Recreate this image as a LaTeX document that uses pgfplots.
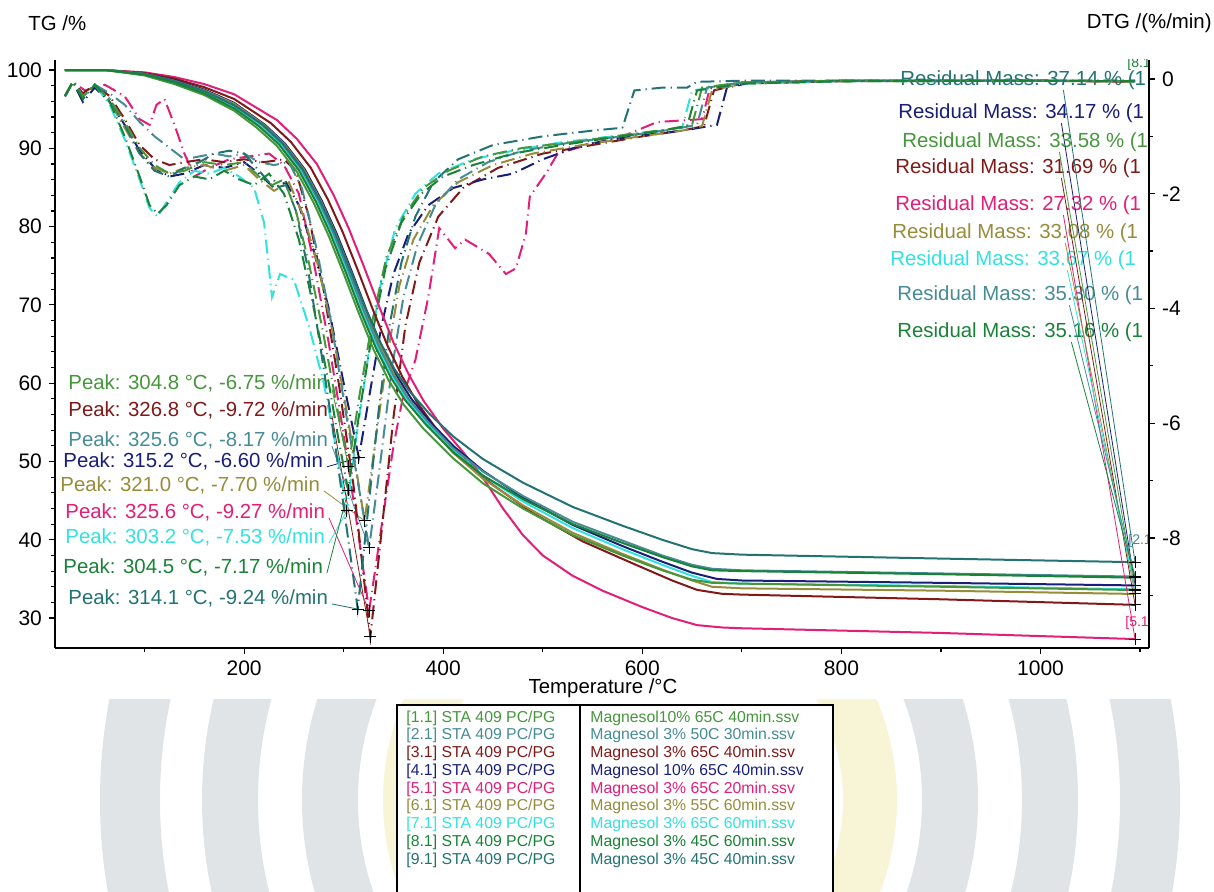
\documentclass[border=0pt]{standalone}
\usepackage{pgfplots}
\pgfplotsset{compat=1.18}
\usepackage{fontspec}
\setmainfont{Liberation Sans}
\definecolor{cA}{RGB}{70,150,60}
\definecolor{cB}{RGB}{70,140,150}
\definecolor{cC}{RGB}{130,25,25}
\definecolor{cD}{RGB}{25,30,120}
\definecolor{cE}{RGB}{225,30,120}
\definecolor{cF}{RGB}{150,140,60}
\definecolor{cG}{RGB}{50,225,225}
\definecolor{cH}{RGB}{25,130,55}
\definecolor{cI}{RGB}{35,115,115}
\definecolor{wmG}{RGB}{224,228,230}
\definecolor{wmY}{RGB}{248,244,214}
\newcommand{\af}{\fontsize{10.2}{12}\selectfont}
\newcommand{\lf}{\fontsize{7.9}{9}\selectfont}
\pgfplotsset{
  dtg/.style={line width=1pt, dash pattern=on 7pt off 2.5pt on 0.6pt off 2.5pt},
  tg/.style={line width=1pt},
}
\tikzset{lead/.style={line width=0.4pt}}
\begin{document}
\begin{tikzpicture}
\path[use as bounding box] (0,0) rectangle (607pt,446pt);
\begin{scope}[x=0.5pt,y=-0.5pt,yshift=446pt]
  \begin{scope}
    \clip (0,700) rectangle (1214,892);
    \draw[line width=27pt,wmY] (640,800) circle[radius=115pt];
    \draw[line width=28pt,wmG] (640,800) circle[radius=155pt];
    \draw[line width=28pt,wmG] (640,800) circle[radius=205pt];
    \draw[line width=30pt,wmG] (640,800) circle[radius=255pt];
  \end{scope}
  % residual mass labels (clipped by the axis box)
  \begin{scope}
    \clip (55,60) rectangle (1149,648);
    \begin{scope}[every node/.style={anchor=west,inner sep=0pt,font=\af}]
      \node[text=cI] at (900,80) {Residual Mass: 37.14 \% (1};
      \node[text=cD] at (898,113) {Residual Mass: 34.17 \% (1};
      \node[text=cA] at (902,142) {Residual Mass: 33.58 \% (1};
      \node[text=cC] at (895,168) {Residual Mass: 31.69 \% (1};
      \node[text=cE] at (895,205) {Residual Mass: 27.32 \% (1};
      \node[text=cF] at (892,233) {Residual Mass: 33.08 \% (1};
      \node[text=cG] at (890,260) {Residual Mass: 33.67 \% (1};
      \node[text=cB] at (897,295) {Residual Mass: 35.30 \% (1};
      \node[text=cH] at (897,332) {Residual Mass: 35.16 \% (1};
    \end{scope}
    \begin{scope}[every node/.style={anchor=west,inner sep=0pt,font=\fontsize{7}{8}\selectfont}]
      \node[text=cE] at (1125,623) {[5.1};
      \node[text=cH] at (1127,64) {[8.1};
      \node[text=cB] at (1128,541) {[2.1};
    \end{scope}
  \end{scope}
  % peak labels
  \begin{scope}[every node/.style={anchor=west,inner sep=0pt,font=\af}]
    \node[text=cA] at (68,383) {Peak: 304.8 °C, -6.75 \%/min};
    \node[text=cC] at (68,410) {Peak: 326.8 °C, -9.72 \%/min};
    \node[text=cB] at (68,440) {Peak: 325.6 °C, -8.17 \%/min};
    \node[text=cD] at (63,461) {Peak: 315.2 °C, -6.60 \%/min};
    \node[text=cF] at (60,485) {Peak: 321.0 °C, -7.70 \%/min};
    \node[text=cE] at (65,512) {Peak: 325.6 °C, -9.27 \%/min};
    \node[text=cG] at (65,537) {Peak: 303.2 °C, -7.53 \%/min};
    \node[text=cH] at (63,567) {Peak: 304.5 °C, -7.17 \%/min};
    \node[text=cI] at (68,598) {Peak: 314.1 °C, -9.24 \%/min};
  \end{scope}
  % titles and x label
  \node[anchor=west,inner sep=0pt,font=\af] at (28,23) {TG /\%};
  \node[anchor=east,inner sep=0pt,font=\af] at (1212,23) {DTG /(\%/min)};
  \node[inner sep=0pt,font=\af] at (603,688) {Temperature /°C};
  % legend table
  \draw[line width=0.8pt,fill=white] (397,705) rectangle (833,905);
  \draw[line width=0.8pt] (580,705) -- (580,905);
  \begin{scope}[every node/.style={anchor=west,inner sep=0pt,font=\lf}]
    \node[text=cA] at (406,718) {[1.1] STA 409 PC/PG};
    \node[text=cA] at (590,718) {Magnesol10\% 65C 40min.ssv};
    \node[text=cB] at (406,735.75) {[2.1] STA 409 PC/PG};
    \node[text=cB] at (590,735.75) {Magnesol 3\% 50C 30min.ssv};
    \node[text=cC] at (406,753.5) {[3.1] STA 409 PC/PG};
    \node[text=cC] at (590,753.5) {Magnesol 3\% 65C 40min.ssv};
    \node[text=cD] at (406,771.25) {[4.1] STA 409 PC/PG};
    \node[text=cD] at (590,771.25) {Magnesol 10\% 65C 40min.ssv};
    \node[text=cE] at (406,789) {[5.1] STA 409 PC/PG};
    \node[text=cE] at (590,789) {Magnesol 3\% 65C 20min.ssv};
    \node[text=cF] at (406,806.75) {[6.1] STA 409 PC/PG};
    \node[text=cF] at (590,806.75) {Magnesol 3\% 55C 60min.ssv};
    \node[text=cG] at (406,824.5) {[7.1] STA 409 PC/PG};
    \node[text=cG] at (590,824.5) {Magnesol 3\% 65C 60min.ssv};
    \node[text=cH] at (406,842.25) {[8.1] STA 409 PC/PG};
    \node[text=cH] at (590,842.25) {Magnesol 3\% 45C 60min.ssv};
    \node[text=cI] at (406,860) {[9.1] STA 409 PC/PG};
    \node[text=cI] at (590,860) {Magnesol 3\% 45C 40min.ssv};
  \end{scope}
\end{scope}

\pgfplotsset{common/.style={
  at={(27.5pt,122pt)}, anchor=south west, scale only axis,
  width=547pt, height=294pt, xmin=10, xmax=1109,
  tick align=outside, major tick length=3pt, minor tick length=1.8pt,
  every tick/.style={black,line width=0.6pt},
  axis line style={line width=0.8pt},
  tick label style={font=\fontsize{10.5}{12}\selectfont},
  /pgf/number format/assume math mode=true,
  /pgf/number format/set thousands separator={},
  scaled ticks=false,
}}

% DTG axis
\begin{axis}[common,
  ymin=-9.918, ymax=0.331,
  axis x line=none, axis y line*=right,
  ytick={-8,-6,-4,-2,0}, minor ytick={-9,-7,-5,-3,-1},
]
% leader lines of the peak labels
\draw[lead,cA] (axis cs:288.2,-5.40) -- (axis cs:304.8,-6.75);
\draw[lead,cC] (axis cs:288.2,-5.87) -- (axis cs:326.8,-9.72);
\draw[lead,cB] (axis cs:288.2,-6.40) -- (axis cs:325.6,-8.17);
\draw[lead,cD] (axis cs:283.2,-6.76) -- (axis cs:315.2,-6.60);
\draw[lead,cF] (axis cs:280.2,-7.18) -- (axis cs:321.0,-7.70);
\draw[lead,cE] (axis cs:285.2,-7.65) -- (axis cs:325.6,-9.27);
\draw[lead,cG] (axis cs:285.2,-8.09) -- (axis cs:303.2,-7.53);
\draw[lead,cH] (axis cs:283.2,-8.61) -- (axis cs:304.5,-7.17);
\draw[lead,cI] (axis cs:288.2,-9.15) -- (axis cs:314.1,-9.24);
\addplot[dtg,cE] coordinates {(20,-0.3)(28,-0.05)(40,-0.2)(60,-0.1)(80,-0.3)(95,-0.7)(105,-0.8)(112,-0.45)(120,-0.35)(130,-0.8)(140,-1.3)(150,-1.7)(165,-1.55)(185,-1.4)(205,-1.35)(225,-1.3)(240,-1.5)(255,-2.0)(270,-3.2)(285,-4.6)(300,-6.2)(312,-7.6)(325.6,-9.27)(338,-7.8)(350,-6.4)(360,-5.5)(372,-4.9)(385,-3.8)(396,-2.6)(412,-2.95)(422,-2.8)(446,-3.05)(463,-3.4)(473,-3.3)(483,-2.7)(487,-2.05)(503,-1.65)(515,-1.3)(545,-1.15)(580,-1.0)(615,-0.75)(660,-0.7)(668,-0.15)(700,-0.06)(800,-0.03)(1000,-0.03)(1095,-0.04)};
\addplot[dtg,cC] coordinates {(20,-0.3)(28,-0.05)(38,-0.25)(50,-0.1)(65,-0.3)(80,-0.7)(95,-1.15)(110,-1.4)(125,-1.5)(140,-1.45)(160,-1.4)(180,-1.45)(200,-1.4)(220,-1.45)(240,-1.4)(252,-1.6)(265,-2.4)(280,-3.7)(295,-5.3)(310,-7.1)(326.8,-9.72)(338,-7.9)(350,-5.9)(362,-4.3)(376,-3.2)(395,-2.4)(420,-1.9)(455,-1.55)(500,-1.3)(550,-1.15)(600,-1.0)(640,-0.9)(662,-0.82)(672,-0.2)(700,-0.08)(800,-0.04)(1000,-0.03)(1095,-0.05)};
\addplot[dtg,cD] coordinates {(20,-0.3)(28,-0.05)(38,-0.4)(50,-0.15)(65,-0.4)(80,-0.8)(95,-1.25)(110,-1.55)(125,-1.7)(140,-1.65)(160,-1.5)(180,-1.55)(200,-1.45)(215,-1.65)(230,-1.9)(242,-1.8)(255,-2.2)(270,-3.0)(285,-4.0)(300,-5.3)(315.2,-6.6)(326,-5.5)(338,-4.3)(350,-3.4)(365,-2.7)(385,-2.2)(410,-1.9)(440,-1.75)(470,-1.65)(500,-1.4)(540,-1.15)(590,-1.0)(640,-0.9)(675,-0.8)(685,-0.15)(710,-0.06)(800,-0.03)(1000,-0.03)(1095,-0.04)};
\addplot[dtg,cF] coordinates {(20,-0.3)(28,-0.05)(38,-0.3)(50,-0.1)(65,-0.4)(80,-0.85)(95,-1.3)(110,-1.55)(125,-1.65)(140,-1.55)(160,-1.5)(180,-1.6)(200,-1.5)(215,-1.75)(230,-1.95)(245,-1.8)(260,-2.4)(275,-3.3)(290,-4.5)(305,-6.0)(321,-7.7)(332,-6.3)(344,-4.8)(356,-3.6)(370,-2.8)(390,-2.2)(415,-1.8)(450,-1.5)(490,-1.3)(540,-1.15)(590,-1.02)(640,-0.9)(660,-0.82)(670,-0.2)(700,-0.08)(800,-0.04)(1000,-0.03)(1095,-0.05)};
\addplot[dtg,cG] coordinates {(20,-0.3)(28,-0.05)(38,-0.3)(50,-0.1)(65,-0.45)(80,-1.05)(95,-1.75)(105,-2.25)(113,-2.4)(122,-2.15)(135,-1.8)(150,-1.6)(165,-1.65)(180,-1.55)(195,-1.7)(210,-1.9)(220,-2.5)(228,-3.8)(236,-3.4)(250,-3.5)(265,-4.3)(280,-5.3)(293,-6.5)(303.2,-7.53)(313,-6.2)(325,-4.8)(338,-3.5)(352,-2.6)(372,-2.0)(395,-1.65)(430,-1.4)(470,-1.25)(520,-1.1)(570,-1.0)(620,-0.9)(640,-0.85)(650,-0.2)(700,-0.08)(800,-0.04)(1000,-0.03)(1095,-0.04)};
\addplot[dtg,cB] coordinates {(20,-0.3)(28,-0.05)(38,-0.3)(50,-0.1)(65,-0.25)(80,-0.45)(95,-0.75)(110,-1.0)(125,-1.2)(140,-1.4)(155,-1.35)(170,-1.3)(185,-1.35)(200,-1.3)(215,-1.45)(230,-1.5)(245,-1.45)(258,-1.9)(272,-2.9)(287,-4.2)(302,-5.8)(314,-7.0)(325.6,-8.17)(336,-6.8)(348,-5.1)(360,-3.8)(374,-2.9)(392,-2.2)(415,-1.75)(445,-1.45)(480,-1.25)(530,-1.1)(580,-1.0)(630,-0.88)(655,-0.8)(665,-0.15)(700,-0.06)(800,-0.03)(1000,-0.03)(1095,-0.03)};
\addplot[dtg,cI] coordinates {(20,-0.3)(28,-0.05)(38,-0.3)(50,-0.1)(65,-0.35)(80,-0.8)(95,-1.3)(110,-1.6)(125,-1.7)(140,-1.55)(155,-1.45)(170,-1.3)(185,-1.25)(200,-1.3)(215,-1.6)(230,-1.9)(242,-1.85)(252,-2.3)(264,-3.3)(276,-4.6)(290,-6.2)(302,-7.7)(314.1,-9.24)(324,-7.6)(335,-5.8)(346,-4.3)(358,-3.2)(372,-2.4)(390,-1.8)(415,-1.4)(450,-1.15)(500,-1.0)(550,-0.9)(580,-0.85)(592,-0.2)(620,-0.15)(645,-0.15)(655,-0.05)(700,-0.03)(1000,-0.03)(1095,-0.03)};
\addplot[dtg,cA] coordinates {(20,-0.3)(28,-0.05)(38,-0.3)(50,-0.12)(65,-0.35)(80,-0.75)(95,-1.2)(110,-1.5)(125,-1.65)(140,-1.6)(160,-1.45)(180,-1.5)(200,-1.45)(215,-1.7)(228,-1.85)(240,-1.75)(252,-2.3)(265,-3.2)(278,-4.3)(292,-5.6)(304.8,-6.75)(316,-5.5)(329,-4.2)(343,-3.1)(360,-2.4)(380,-1.9)(405,-1.6)(440,-1.35)(480,-1.2)(530,-1.1)(580,-0.98)(625,-0.88)(650,-0.8)(660,-0.15)(700,-0.06)(800,-0.03)(1000,-0.03)(1095,-0.04)};
\addplot[dtg,cH] coordinates {(20,-0.3)(28,-0.05)(38,-0.35)(50,-0.1)(65,-0.4)(80,-1.0)(95,-1.7)(105,-2.2)(113,-2.35)(122,-2.2)(135,-1.85)(150,-1.7)(165,-1.75)(180,-1.6)(195,-1.75)(210,-1.85)(225,-1.65)(240,-2.0)(255,-2.8)(270,-4.0)(285,-5.3)(295,-6.3)(304.5,-7.17)(315,-5.9)(328,-4.5)(342,-3.3)(358,-2.5)(378,-2.0)(400,-1.7)(430,-1.5)(470,-1.3)(520,-1.15)(570,-1.02)(620,-0.9)(645,-0.82)(655,-0.2)(700,-0.08)(800,-0.04)(1000,-0.03)(1095,-0.04)};
% peak markers
\addplot[only marks, mark=+, mark size=3pt, black, mark options={line width=0.5pt}] coordinates {(304.8,-6.75)(326.8,-9.72)(325.6,-8.17)(315.2,-6.60)(321.0,-7.70)(325.6,-9.27)(303.2,-7.53)(304.5,-7.17)(314.1,-9.24)};
\end{axis}

% TG axis
\begin{axis}[common,
  ymin=26.18, ymax=101.28,
  axis x line*=bottom, axis y line*=left,
  xtick={200,400,600,800,1000}, minor xtick={100,300,500,700,900,1100},
  ytick={30,40,50,60,70,80,90,100}, minor y tick num=4,
]
\addplot[tg,cE] coordinates {(20,100)(60,100)(100,99.7)(130,99.1)(160,98.2)(190,96.9)(233,93.6)(253,91.2)(273,88)(290,84)(305,79.8)(320,75)(335,70)(350,65.2)(365,61.2)(380,57.8)(400,54.2)(420,51.2)(440,47.9)(460,44)(480,40.6)(500,38)(530,35.4)(560,33.5)(600,31.4)(630,30)(655,29.1)(680,28.8)(700,28.7)(900,28.1)(1095,27.32)};
\addplot[tg,cC] coordinates {(20,100)(60,100)(100,99.6)(130,98.9)(160,97.8)(190,96.3)(227,93.2)(247,90.8)(267,87.5)(284,83.5)(299,79.3)(314,74.5)(329,69.5)(344,64.8)(359,60.8)(374,57.5)(394,54)(420,50.4)(450,47)(490,43.4)(540,39.8)(590,37)(630,34.8)(655,33.6)(680,33.1)(700,33)(900,32.4)(1095,31.69)};
\addplot[tg,cD] coordinates {(20,100)(60,100)(100,99.5)(130,98.7)(160,97.5)(190,95.8)(221,93)(241,90.6)(261,87.3)(278,83.3)(293,79.1)(308,74.3)(323,69.3)(338,64.8)(353,61)(368,58)(388,54.9)(410,52)(440,48.8)(480,45.4)(530,41.9)(580,39.2)(620,37.2)(650,35.8)(675,35)(700,34.8)(900,34.5)(1095,34.17)};
\addplot[tg,cF] coordinates {(20,100)(60,100)(100,99.5)(130,98.6)(160,97.4)(190,95.7)(220,93)(240,90.6)(260,87.3)(277,83.3)(292,79.1)(307,74.3)(322,69.3)(337,64.7)(352,60.8)(367,57.6)(387,54.3)(410,51.1)(440,47.8)(480,44.4)(530,40.9)(580,38.2)(620,36.2)(650,34.8)(670,34)(700,33.8)(900,33.5)(1095,33.08)};
\addplot[tg,cG] coordinates {(20,100)(60,100)(100,99.4)(130,98.5)(160,97.1)(190,95.3)(217,92.9)(237,90.5)(257,87.2)(274,83.2)(289,79)(304,74.2)(319,69.2)(334,64.6)(349,60.9)(364,57.9)(384,54.8)(410,51.4)(440,48.2)(480,44.9)(530,41.5)(580,38.8)(620,36.8)(650,35.4)(670,34.6)(700,34.4)(900,34.1)(1095,33.67)};
\addplot[tg,cB] coordinates {(20,100)(60,100)(100,99.5)(130,98.6)(160,97.3)(190,95.5)(218,93)(238,90.6)(258,87.3)(275,83.3)(290,79.1)(305,74.3)(320,69.3)(335,64.8)(350,61)(365,58)(385,55)(410,51.7)(440,48.7)(480,45.6)(530,42.3)(580,39.9)(620,38)(650,36.8)(670,36.3)(700,36.1)(900,35.7)(1095,35.30)};
\addplot[tg,cI] coordinates {(20,100)(60,100)(100,99.5)(130,98.6)(160,97.3)(190,95.5)(219,93)(239,90.6)(259,87.3)(276,83.4)(291,79.3)(306,74.6)(321,69.8)(336,65.4)(351,61.8)(366,59)(386,56.1)(410,53.2)(440,50.3)(480,47.3)(530,44.2)(580,41.8)(620,40)(650,38.8)(670,38.3)(700,38.1)(900,37.6)(1095,37.14)};
\addplot[tg,cA] coordinates {(20,100)(60,100)(100,99.3)(130,98.2)(160,96.8)(190,94.8)(213,92.6)(233,90.3)(253,87)(270,83)(285,78.8)(300,74)(315,69)(330,64.3)(345,60.4)(360,57.3)(380,54.2)(410,50.4)(440,47.2)(480,44)(530,40.6)(580,38)(620,36.1)(650,34.9)(670,34.5)(700,34.4)(900,34)(1095,33.58)};
\addplot[tg,cH] coordinates {(20,100)(60,100)(100,99.4)(130,98.4)(160,97.0)(190,95.1)(215,92.8)(235,90.5)(255,87.2)(272,83.2)(287,79)(302,74.2)(317,69.2)(332,64.6)(347,60.8)(362,57.8)(382,54.8)(410,51.2)(440,48.2)(480,45.2)(530,42)(580,39.6)(620,37.8)(650,36.6)(670,36.1)(700,36)(900,35.6)(1095,35.16)};
% leader lines of the residual mass labels
\draw[lead,cI] (axis cs:1023,97.45) -- (axis cs:1095,37.14);
\draw[lead,cD] (axis cs:1021,93.23) -- (axis cs:1095,34.17);
\draw[lead,cA] (axis cs:1019,89.53) -- (axis cs:1095,33.58);
\draw[lead,cC] (axis cs:1021,86.21) -- (axis cs:1095,31.69);
\draw[lead,cE] (axis cs:1023,81.48) -- (axis cs:1095,27.32);
\draw[lead,cF] (axis cs:1025,77.90) -- (axis cs:1095,33.08);
\draw[lead,cG] (axis cs:1027,74.45) -- (axis cs:1095,33.67);
\draw[lead,cB] (axis cs:1029,69.98) -- (axis cs:1095,35.30);
\draw[lead,cH] (axis cs:1031,65.26) -- (axis cs:1095,35.16);
% residual markers
\addplot[only marks, mark=+, mark size=3pt, black, mark options={line width=0.5pt}] coordinates {(1095,37.14)(1095,34.17)(1095,33.58)(1095,31.69)(1095,27.32)(1095,33.08)(1095,33.67)(1095,35.30)(1095,35.16)};
\end{axis}
\end{tikzpicture}
\end{document}
